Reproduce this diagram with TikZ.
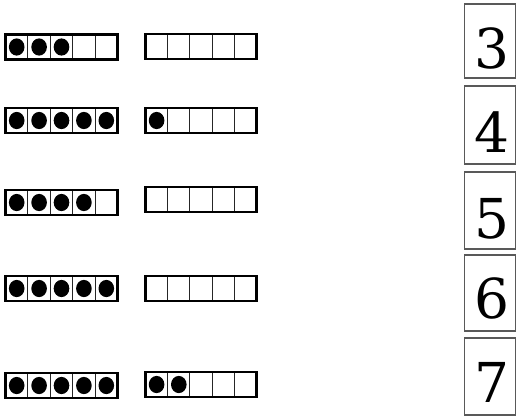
\documentclass[tikz,border=0pt]{standalone}
\usepackage{fontspec}
\newfontfamily\digitfont{DejaVu Serif}
\tikzset{
  cellline/.style={line width=1.1pt, black!85},
  frameborder/.style={line width=2.6pt, black},
  dotfill/.style={fill=black},
  numbox/.style={draw=black!65, line width=1.1pt},
  numtext/.style={font=\digitfont\fontsize{55}{55}\selectfont, anchor=base, inner sep=0pt},
}
\newcommand\tenfr[4]{%
  \begin{scope}[shift={(#1,#2)}]
    \foreach \i in {1,...,4} \draw[cellline] ({\i*#3/5},0) -- ({\i*#3/5},25);
    \ifnum#4>0
      \foreach \i in {1,...,#4} \fill[dotfill] ({(\i-0.5)*#3/5},12.5) ellipse [x radius=7.8pt, y radius=8.6pt];
    \fi
    \draw[frameborder] (0,0) rectangle (#3,25);
  \end{scope}}
\begin{document}
\begin{tikzpicture}[x=1pt,y=-1pt]
  \useasboundingbox (0,0) rectangle (520,416);
  % row 1
  \tenfr{5.5}{34.5}{112}{3}
  \tenfr{145.5}{34}{111}{0}
  % row 2
  \tenfr{5.5}{108}{112}{5}
  \tenfr{145.5}{108}{111}{1}
  % row 3
  \tenfr{5.5}{190}{112}{4}
  \tenfr{145.5}{187}{111}{0}
  % row 4
  \tenfr{5.5}{276}{112}{5}
  \tenfr{145.5}{276}{111}{0}
  % row 5
  \tenfr{5.5}{373}{112}{5}
  \tenfr{145.5}{372}{111}{2}
  % number boxes
  \draw[numbox] (464.5,4) rectangle (515.5,78);
  \node[numtext] (d3) at (492,68) {3};
  \draw[numbox] (464.5,86) rectangle (515.5,164);
  \node[numtext] (d4) at (492,152) {4};
  \draw[numbox] (464.5,172) rectangle (515.5,249);
  \node[numtext] (d5) at (492,238) {5};
  \draw[numbox] (464.5,255) rectangle (515.5,331);
  \node[numtext] (d6) at (492,318) {6};
  \draw[numbox] (464.5,338) rectangle (515.5,415);
  \node[numtext] (d7) at (492,402) {7};
\end{tikzpicture}
\end{document}
